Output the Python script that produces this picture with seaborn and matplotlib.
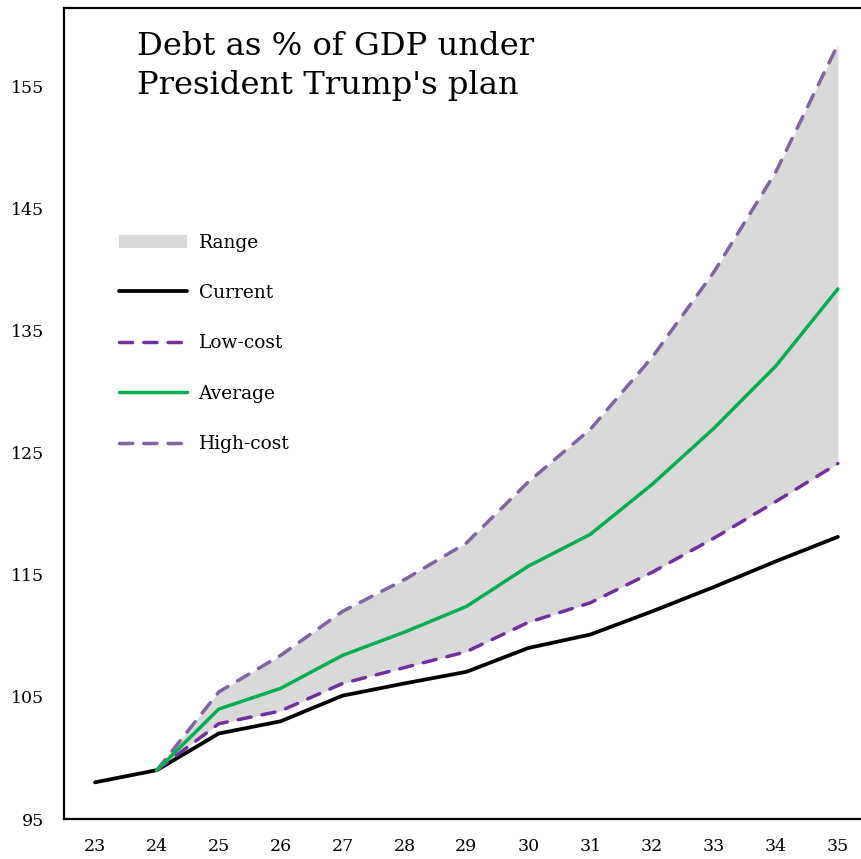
import matplotlib
matplotlib.use("Agg")
import matplotlib.pyplot as plt
from matplotlib.patches import Patch
import seaborn as sns
import pandas as pd

# Debt as % of GDP projections (fiscal years 2023-2035, two-digit labels)
years_current = [23, 24, 25, 26, 27, 28, 29, 30, 31, 32, 33, 34, 35]
current = [98.0, 99.0, 102.0, 103.0, 105.1, 106.1, 107.05, 109.0, 110.1, 112.0, 114.0, 116.1, 118.1]

years_plan = [24, 25, 26, 27, 28, 29, 30, 31, 32, 33, 34, 35]
low_cost = [99.0, 102.8, 103.85, 106.1, 107.4, 108.7, 111.1, 112.7, 115.2, 118.0, 121.0, 124.1]
average = [99.0, 104.0, 105.7, 108.4, 110.3, 112.4, 115.7, 118.3, 122.4, 127.0, 132.1, 138.4]
high_cost = [99.0, 105.4, 108.4, 112.0, 114.6, 117.6, 122.6, 126.9, 132.8, 139.8, 148.0, 158.4]

x_ticks = list(range(23, 36))
y_ticks = [95, 105, 115, 125, 135, 145, 155]

sns.set_theme(style="white")
plt.rcParams["font.family"] = ["DejaVu Serif"]
plt.rcParams["text.color"] = "black"

fig = plt.figure(figsize=(8.62, 8.59), dpi=100)
ax = fig.add_axes([64 / 862, 40 / 859, 798 / 862, 811 / 859])

ax.fill_between(years_plan, low_cost, high_cost, color="#D9D9D9", lw=0, zorder=1)

df_cur = pd.DataFrame({"year": years_current, "value": current})
df_plan = pd.DataFrame({"year": years_plan, "low": low_cost, "avg": average, "high": high_cost})

lw = 2.5
sns.lineplot(data=df_cur, x="year", y="value", ax=ax, color="black", lw=lw + 0.2, zorder=3)
sns.lineplot(data=df_plan, x="year", y="low", ax=ax, color="#7030A0", lw=lw, zorder=3)
sns.lineplot(data=df_plan, x="year", y="avg", ax=ax, color="#00B050", lw=lw, zorder=4)
sns.lineplot(data=df_plan, x="year", y="high", ax=ax, color="#8064A2", lw=lw, zorder=3)

lines = ax.get_lines()
for ln in (lines[1], lines[3]):
    ln.set_linestyle((0, (3.8, 3.2)))
    ln.set_dash_capstyle("round")

ax.set_xlim(22.5, 35.39)
ax.set_ylim(95, 161.4)
ax.set_xticks(x_ticks)
ax.set_xticklabels([str(v) for v in x_ticks])
ax.set_yticks(y_ticks)
ax.set_yticklabels([str(v) for v in y_ticks])
ax.set_xlabel("")
ax.set_ylabel("")
ax.tick_params(axis="both", length=0, labelsize=12.5, colors="black")
ax.tick_params(axis="x", pad=14)
ax.tick_params(axis="y", pad=14)

for side in ("left", "top", "bottom"):
    ax.spines[side].set_visible(True)
    ax.spines[side].set_color("black")
    ax.spines[side].set_linewidth(1.6)
ax.spines["right"].set_visible(False)

ax.text(0.0915, 0.972, "Debt as % of GDP under\nPresident Trump's plan",
        transform=ax.transAxes, ha="left", va="top", fontsize=23.2,
        linespacing=1.33, color="black")

handles = [
    Patch(facecolor="#D9D9D9", edgecolor="none", label="Range"),
    lines[0], lines[1], lines[2], lines[3],
]
labels = ["Range", "Current", "Low-cost", "Average", "High-cost"]
leg = ax.legend(handles, labels, loc="upper left", bbox_to_anchor=(0.059, 0.731),
                frameon=False, fontsize=13.4, handlelength=3.7, handletextpad=0.6,
                labelspacing=1.74, borderaxespad=0)
for t in leg.get_texts():
    t.set_color("black")

fig.savefig("out.png", dpi=100)
